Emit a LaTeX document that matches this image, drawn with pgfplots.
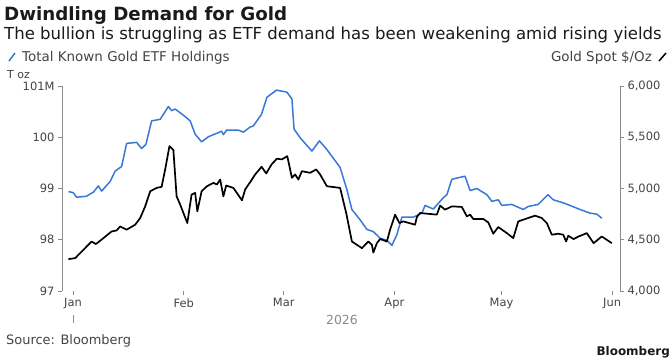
\documentclass[border=0pt]{standalone}
\usepackage{pgfplots}
\pgfplotsset{compat=1.18}
\usepackage{fontspec}
\setmainfont{DejaVu Sans}
\definecolor{etfblue}{HTML}{3A78D6}
\definecolor{axgray}{HTML}{8C8C8C}
\definecolor{txtgray}{HTML}{444444}
\definecolor{ttl}{HTML}{1A1A1A}
\begin{document}
\begin{tikzpicture}[x=1bp,y=1bp]
\useasboundingbox (0,0) rectangle (672,-360);
\fill[white] (0,0) rectangle (672,-360);
\node[anchor=base west,inner sep=0,font=\bfseries\fontsize{18.3}{20}\selectfont,text=ttl] at (4,-20) {Dwindling Demand for Gold};
\node[anchor=base west,inner sep=0,font=\fontsize{16.6}{19}\selectfont,text=ttl] at (4,-39) {The bullion is struggling as ETF demand has been weakening amid rising yields};
\draw[etfblue,line width=1.5bp] (9,-61) -- (15,-53);
\node[anchor=base west,inner sep=0,font=\fontsize{13.5}{15}\selectfont,text=txtgray] at (22,-61) {Total Known Gold ETF Holdings};
\draw[black,line width=1.5bp] (659,-61) -- (666,-53);
\node[anchor=base east,inner sep=0,font=\fontsize{13.5}{15}\selectfont,text=txtgray] at (652,-61) {Gold Spot \$/Oz};
\node[anchor=base west,inner sep=0,font=\fontsize{11}{13}\selectfont,text=txtgray] at (7,-78) {T oz};
\node[anchor=base,inner sep=0,font=\fontsize{12.5}{14}\selectfont,text=axgray] at (342,-324) {2026};
\draw[axgray,line width=0.6bp] (73,-315) -- (73,-323);
\node[anchor=base west,inner sep=0,font=\fontsize{13}{15}\selectfont,text=txtgray] at (6,-344) {Source: Bloomberg};
\node[anchor=base east,inner sep=0,font=\bfseries\fontsize{12}{14}\selectfont,text=ttl] at (670,-355) {Bloomberg};

\begin{axis}[
  at={(62bp,-291bp)}, anchor=south west,
  scale only axis, width=558bp, height=205bp,
  xmin=-3.1, xmax=153.2, ymin=97, ymax=101,
  axis y line*=left, axis x line*=bottom,
  x axis line style={draw=none},
  y axis line style={axgray,line width=0.8bp,-},
  xtick={0,31,59,90,120,151},
  xticklabels={Jan,Feb,Mar,Apr,May,Jun},
  ytick={97,98,99,100,101},
  yticklabels={97,98,99,100,101M},
  tick align=outside,
  major tick length=4bp,
  tick style={axgray,line width=0.6bp},
  x tick label style={font=\fontsize{11.5}{13}\selectfont,text=txtgray},
  y tick label style={font=\fontsize{11.5}{13}\selectfont,text=txtgray},
  /pgf/number format/assume math mode=true,
  clip=false,
]
\addplot[etfblue,line width=1.5bp,line join=round] coordinates {
(-1.3,98.94)(0,98.92)(1,98.83)(3.8,98.85)(5.7,98.93)(7.1,99.05)(8,98.95)(10.4,99.14)(11.8,99.34)(13.6,99.43)(15,99.88)(17.8,99.90)(19.2,99.78)(20.4,99.86)(22,100.32)(24.4,100.35)(26.7,100.60)(27.6,100.52)(28.6,100.55)(30.9,100.43)(32.8,100.32)(34.2,100.06)(36,99.91)(37.9,100.01)(40.7,100.09)(41.6,100.12)(42.1,100.05)(43,100.14)(46.3,100.14)(47.7,100.10)(49.6,100.20)(50.5,100.22)(52.8,100.45)(54.3,100.78)(57,100.92)(59.9,100.88)(61.3,100.75)(61.9,100.16)(63.6,99.99)(66.9,99.73)(69,99.93)(71.1,99.76)(74.8,99.41)(76.7,98.98)(78.1,98.59)(80.4,98.39)(82.3,98.20)(84.1,98.16)(86,98.03)(87.9,97.99)(89.3,97.89)(90.7,98.10)(92.1,98.44)(95.3,98.44)(97.7,98.52)(98.6,98.67)(100.9,98.60)(103.7,98.82)(104.7,98.88)(106.1,99.18)(107.9,99.21)(109.8,99.24)(111.2,98.96)(113.1,99.00)(115.9,98.88)(117.3,98.75)(119.1,98.78)(120.1,98.67)(122.9,98.69)(126.1,98.59)(127.5,98.65)(130.3,98.69)(133,98.88)(134.5,98.78)(137.3,98.72)(139.2,98.67)(142,98.59)(144.8,98.52)(146.7,98.50)(148.1,98.42)
};
\end{axis}

\begin{axis}[
  at={(62bp,-291bp)}, anchor=south west,
  scale only axis, width=558bp, height=205bp,
  xmin=-3.1, xmax=153.2, ymin=4000, ymax=6000,
  axis y line*=right, axis x line=none,
  y axis line style={axgray,line width=0.8bp,-},
  ytick={4000,4500,5000,5500,6000},
  tick align=outside,
  major tick length=4bp,
  tick style={axgray,line width=0.6bp},
  y tick label style={font=\fontsize{11.5}{13}\selectfont,text=txtgray},
  /pgf/number format/.cd, 1000 sep={,}, assume math mode=true,
  /pgfplots/.cd,
  scaled y ticks=false,
  clip=false,
]
\addplot[black,line width=1.7bp,line join=round] coordinates {
(-1.3,4311)(0.6,4321)(2.9,4402)(5.2,4483)(6.4,4458)(8.5,4516)(10.8,4581)(12.2,4591)(13.2,4630)(15,4598)(17.4,4647)(18.8,4712)(20.2,4826)(21.6,4973)(23.4,5006)(24.8,5016)(25.8,5186)(27,5414)(28.1,5375)(29,4924)(30,4843)(32,4663)(33.2,4941)(34.2,4957)(34.8,4777)(36,4973)(37.5,5022)(39.3,5055)(40.3,5039)(41.2,5088)(42.1,4924)(42.9,5029)(44.9,5006)(47.3,4885)(48.2,4990)(50.1,5088)(51,5137)(52.8,5212)(54.1,5147)(55.6,5235)(57.1,5291)(58.5,5284)(60,5316)(61.3,5104)(62.2,5137)(63.1,5088)(64.1,5169)(66.4,5153)(68.1,5186)(69.2,5137)(71.1,5022)(74.8,5006)(76.5,4761)(78.1,4483)(79.5,4451)(80.9,4418)(82.7,4483)(83.7,4451)(84.1,4375)(85.1,4467)(86,4507)(87.9,4483)(88.8,4598)(90.2,4745)(91.4,4663)(92.5,4679)(95.8,4647)(96.3,4722)(97.2,4761)(101.9,4745)(102.8,4833)(104.2,4794)(106.1,4826)(108.9,4820)(110.3,4728)(111.2,4745)(112.1,4703)(114.9,4703)(116.3,4669)(117.7,4559)(119.1,4624)(121.5,4565)(123.3,4516)(124.7,4679)(126.1,4696)(129.4,4735)(131.3,4712)(132.7,4663)(134.1,4549)(135.9,4559)(137.3,4549)(138.1,4483)(138.7,4539)(140.2,4507)(141.6,4532)(143.9,4565)(145.8,4467)(148.1,4532)(150.9,4467)
};
\end{axis}
\end{tikzpicture}
\end{document}
